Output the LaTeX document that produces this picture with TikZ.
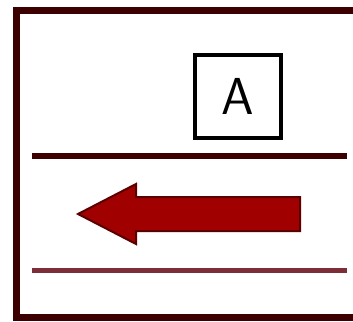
\documentclass[tikz,border=0pt]{standalone}
\usepackage{xcolor}
\usepackage{tikz}

\definecolor{framered}{RGB}{60,0,0}
\definecolor{arrowred}{RGB}{160,0,0}
\definecolor{arrowedge}{RGB}{90,0,0}
\definecolor{rulepink}{RGB}{125,45,55}

\begin{document}
\begin{tikzpicture}[x=1pt, y=-1pt,
    frameline/.style={draw=framered, line width=7pt},
    letterbox/.style={draw=black, line width=4pt, minimum width=86pt, minimum height=83pt, inner sep=0pt},
    leftarrow/.style={fill=arrowred, draw=arrowedge, line width=2pt, line join=miter}]
      \useasboundingbox (0,0) rectangle (353,321);

      % frame open on the right
      \draw [frameline] (353,11) -- (16,11) -- (16,317) -- (353,317);

      \node (Letter) [letterbox] at (238,96.5) {\sffamily\fontsize{52}{52}\selectfont A};

      \coordinate (UpperL) at (32,156);
      \coordinate (UpperR) at (347,156);
      \coordinate (LowerL) at (32,270);
      \coordinate (LowerR) at (347,270);
      \draw [draw=framered, line width=6pt] (UpperL) -- (UpperR);
      \draw [draw=rulepink, line width=5pt] (LowerL) -- (LowerR);

      % arrow pointing left
      \filldraw [leftarrow] (78,214) -- (136,184) -- (136,197) -- (300,197)
        -- (300,231) -- (136,231) -- (136,244) -- cycle;
    \end{tikzpicture}
\end{document}
